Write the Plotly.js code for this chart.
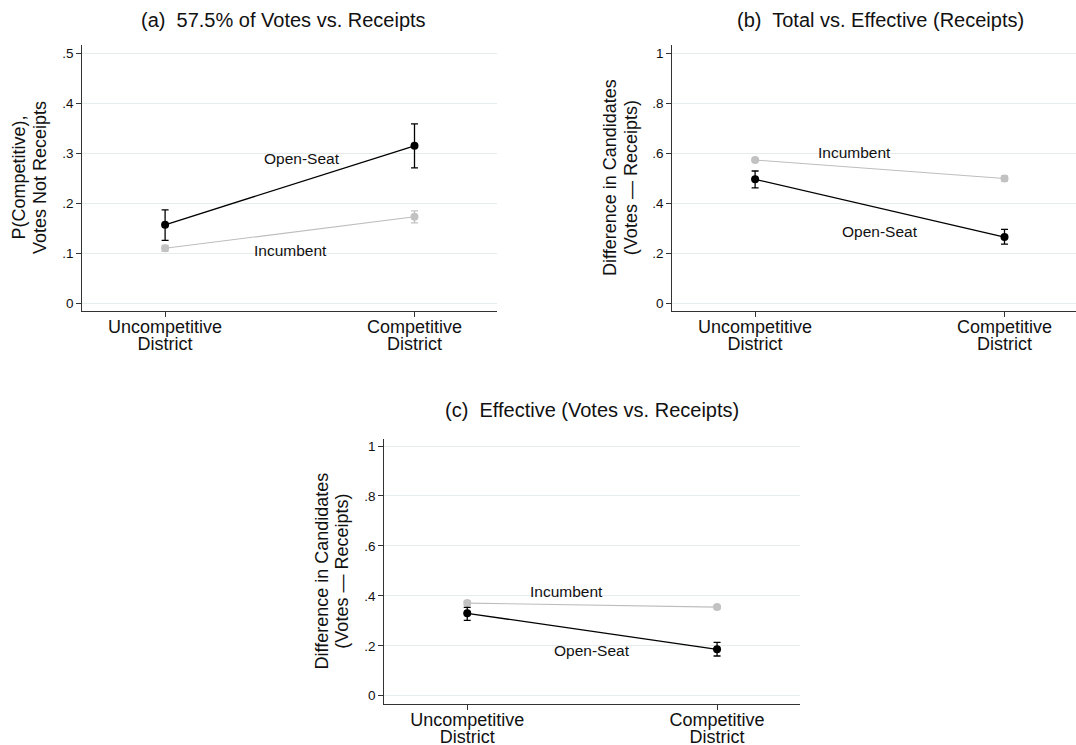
<!DOCTYPE html>
<html>
<head>
<meta charset="utf-8">
<script src="https://cdn.plot.ly/plotly-3.0.1.min.js"></script>
<style>
html,body{margin:0;padding:0;background:#fff;overflow:hidden;}
#chart{width:1090px;height:745px;}
</style>
</head>
<body>
<div id="chart"></div>
<script>
// ---- data ----
const categories = ["Uncompetitive<br>District", "Competitive<br>District"];
const seriesNames = ["Open-Seat", "Incumbent"];

// (a) 57.5% of Votes vs. Receipts
const aOpen = [0.157, 0.315];
const aOpenLo = [0.126, 0.271];
const aOpenHi = [0.187, 0.359];
const aInc = [0.110, 0.173];
const aIncLo = [0.104, 0.161];
const aIncHi = [0.116, 0.185];

// (b) Total vs. Effective (Receipts)
const bOpen = [0.496, 0.265];
const bOpenLo = [0.462, 0.237];
const bOpenHi = [0.529, 0.296];
const bInc = [0.573, 0.499];
const bIncLo = [0.567, 0.489];
const bIncHi = [0.579, 0.509];

// (c) Effective (Votes vs. Receipts)
const cOpen = [0.330, 0.186];
const cOpenLo = [0.302, 0.159];
const cOpenHi = [0.354, 0.214];
const cInc = [0.371, 0.355];
const cIncLo = [0.363, 0.349];
const cIncHi = [0.379, 0.361];

const titles = ["(a)  57.5% of Votes vs. Receipts", "(b)  Total vs. Effective (Receipts)", "(c)  Effective (Votes vs. Receipts)"];
const yTitles = ["P(Competitive),<br>Votes Not Receipts", "Difference in Candidates<br>(Votes \u2014 Receipts)", "Difference in Candidates<br>(Votes \u2014 Receipts)"];
const yTicksA = [0, 0.1, 0.2, 0.3, 0.4, 0.5];
const yTickTextA = ["0", ".1", ".2", ".3", ".4", ".5"];
const yTicksB = [0, 0.2, 0.4, 0.6, 0.8, 1];
const yTickTextB = ["0", ".2", ".4", ".6", ".8", "1"];

// ---- styling / layout ----
const W = 1090, H = 745;
const FONT = "Liberation Sans, Arial, Helvetica, sans-serif";
const OPEN_COLOR = "#000000";
const INC_COLOR = "#c2c2c2";
const INC_LINE = "#bdbdbd";

function diff(a, b) { return a.map((v, i) => Math.abs(v - b[i])); }

function pair(val, lo, hi, color, lineColor, lw, xa, ya, name) {
  return {
    type: "scatter", mode: "lines+markers", name: name,
    x: categories, y: val, xaxis: xa, yaxis: ya,
    line: {color: lineColor, width: lw},
    marker: {color: color, size: 8, symbol: "circle"},
    error_y: {type: "data", symmetric: false,
      array: diff(hi, val), arrayminus: diff(val, lo),
      color: color, thickness: 1.3, width: 3.5},
    showlegend: false, hoverinfo: "skip"
  };
}

const traces = [
  pair(aInc, aIncLo, aIncHi, INC_COLOR, INC_LINE, 1.1, "x", "y", seriesNames[1]),
  pair(aOpen, aOpenLo, aOpenHi, OPEN_COLOR, OPEN_COLOR, 1.3, "x", "y", seriesNames[0]),
  pair(bInc, bIncLo, bIncHi, INC_COLOR, INC_LINE, 1.1, "x2", "y2", seriesNames[1]),
  pair(bOpen, bOpenLo, bOpenHi, OPEN_COLOR, OPEN_COLOR, 1.3, "x2", "y2", seriesNames[0]),
  pair(cInc, cIncLo, cIncHi, INC_COLOR, INC_LINE, 1.1, "x3", "y3", seriesNames[1]),
  pair(cOpen, cOpenLo, cOpenHi, OPEN_COLOR, OPEN_COLOR, 1.3, "x3", "y3", seriesNames[0])
];

function px(v) { return v / W; }
function py(v) { return 1 - v / H; }

const xRange = [-0.332, 1.332];
function xAxis(l, r, anchor) {
  return {
    domain: [px(l), px(r)], anchor: anchor, type: "category", range: xRange,
    showline: true, linecolor: "#333", linewidth: 1.2, mirror: false,
    ticks: "outside", ticklen: 5, tickcolor: "#333", tickwidth: 1,
    ticklabelstandoff: -6,
    showgrid: false, zeroline: false, fixedrange: true,
    tickfont: {family: FONT, size: 18, color: "#111"}
  };
}
function yAxis(top, bot, range, tv, tt, anchor) {
  return {
    domain: [py(bot), py(top)], anchor: anchor, range: range,
    tickvals: tv, ticktext: tt,
    showline: true, linecolor: "#333", linewidth: 1.2,
    ticks: "outside", ticklen: 5, tickcolor: "#333", tickwidth: 1,
    showgrid: true, gridcolor: "#e4eced", gridwidth: 1,
    zeroline: false, fixedrange: true,
    tickfont: {family: FONT, size: 13.5, color: "#111"}
  };
}

const labFont = {family: FONT, size: 15.5, color: "#111"};
const titleFont = {family: FONT, size: 20, color: "#111"};
const yTitleFont = {family: FONT, size: 18, color: "#111"};

const annotations = [
  // panel titles
  {text: titles[0], xref: "paper", yref: "paper", x: px(283.3), y: py(20), showarrow: false, font: titleFont, xanchor: "center", yanchor: "middle"},
  {text: titles[1], xref: "paper", yref: "paper", x: px(880), y: py(20), showarrow: false, font: titleFont, xanchor: "center", yanchor: "middle"},
  {text: titles[2], xref: "paper", yref: "paper", x: px(591.7), y: py(410), showarrow: false, font: titleFont, xanchor: "center", yanchor: "middle"},
  // y-axis titles
  {text: yTitles[0], xref: "paper", yref: "paper", x: px(30), y: py(178), textangle: -90, showarrow: false, font: yTitleFont, xanchor: "center", yanchor: "middle"},
  {text: yTitles[1], xref: "paper", yref: "paper", x: px(621), y: py(178), textangle: -90, showarrow: false, font: yTitleFont, xanchor: "center", yanchor: "middle"},
  {text: yTitles[2], xref: "paper", yref: "paper", x: px(333), y: py(571.5), textangle: -90, showarrow: false, font: yTitleFont, xanchor: "center", yanchor: "middle"},
  // series labels
  {text: seriesNames[0], xref: "x", yref: "y", x: 0.549, y: 0.29, showarrow: false, font: labFont},
  {text: seriesNames[1], xref: "x", yref: "y", x: 0.502, y: 0.105, showarrow: false, font: labFont},
  {text: seriesNames[1], xref: "x2", yref: "y2", x: 0.40, y: 0.604, showarrow: false, font: labFont},
  {text: seriesNames[0], xref: "x2", yref: "y2", x: 0.50, y: 0.289, showarrow: false, font: labFont},
  {text: seriesNames[1], xref: "x3", yref: "y3", x: 0.398, y: 0.419, showarrow: false, font: labFont},
  {text: seriesNames[0], xref: "x3", yref: "y3", x: 0.498, y: 0.18, showarrow: false, font: labFont}
];

const layout = {
  width: W, height: H,
  margin: {l: 0, r: 0, t: 0, b: 0, pad: 0},
  paper_bgcolor: "#fff", plot_bgcolor: "#fff",
  showlegend: false,
  font: {family: FONT, color: "#111"},
  xaxis: xAxis(82.3, 497.3, "y"),
  yaxis: yAxis(45, 310.7, [-0.0148, 0.5166], yTicksA, yTickTextA, "x"),
  xaxis2: xAxis(672.3, 1087.3, "y2"),
  yaxis2: yAxis(45, 310.7, [-0.0296, 1.033], yTicksB, yTickTextB, "x2"),
  xaxis3: xAxis(384.3, 800, "y3"),
  yaxis3: yAxis(439.3, 703.7, [-0.032, 1.027], yTicksB, yTickTextB, "x3"),
  annotations: annotations
};

function tighten(gd) {
  // tighter line spacing for two-line category labels and axis titles (as in the reference)
  gd.querySelectorAll("g.xtick text tspan.line, g.x2tick text tspan.line, g.x3tick text tspan.line").forEach(t => {
    const dy = parseFloat(t.getAttribute("dy") || "0");
    if (dy > 0) t.setAttribute("dy", "0.95em");
  });
  gd.querySelectorAll("g.annotation-text-g text tspan.line").forEach(t => {
    const dy = parseFloat(t.getAttribute("dy") || "0");
    if (dy > 0) t.setAttribute("dy", "1.15em");
  });
}

Plotly.newPlot("chart", traces, layout, {displayModeBar: false, staticPlot: true}).then(tighten);
</script>
</body>
</html>
